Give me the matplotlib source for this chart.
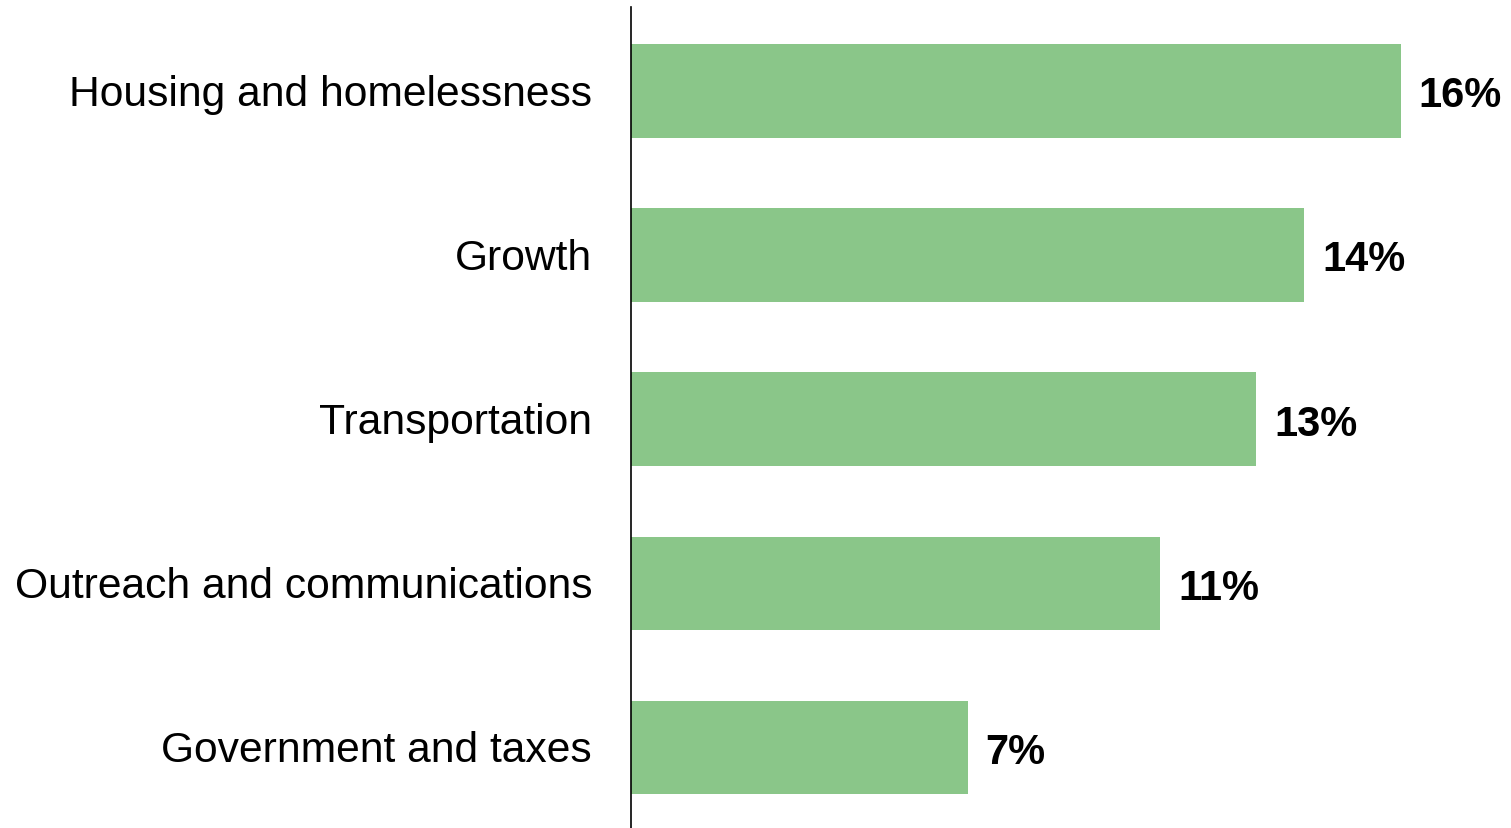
import matplotlib.pyplot as plt

categories = ["Housing and homelessness", "Growth", "Transportation",
              "Outreach and communications", "Government and taxes"]
values = [16, 14, 13, 11, 7]
labels = ["16%", "14%", "13%", "11%", "7%"]

plt.rcParams["font.family"] = ["Liberation Sans", "DejaVu Sans"]

fig = plt.figure(figsize=(15.11, 8.29), dpi=100)
ax = fig.add_axes([631 / 1511, 0, 1 - 631 / 1511, 1 - 8 / 829])

pos = list(range(len(categories)))
ax.barh([p + 0.01 for p in pos], values, height=0.57, color="#8AC689")
for p, v, lab in zip(pos, values, labels):
    ax.text(v + 0.37, p + 0.01, lab, va="center_baseline", ha="left",
            fontsize=30, fontweight="bold", color="black")

ax.set_yticks(pos)
ax.set_yticklabels(categories, fontsize=30.7)
ax.tick_params(axis="y", length=0, pad=28)
ax.set_ylim(4.5, -0.5)
ax.set_xlim(0, (1511 - 631) / 48.1)
ax.set_xticks([])
for s in ["top", "right", "bottom"]:
    ax.spines[s].set_visible(False)
ax.spines["left"].set_linewidth(1.2)

fig.savefig("out.png", dpi=100)
